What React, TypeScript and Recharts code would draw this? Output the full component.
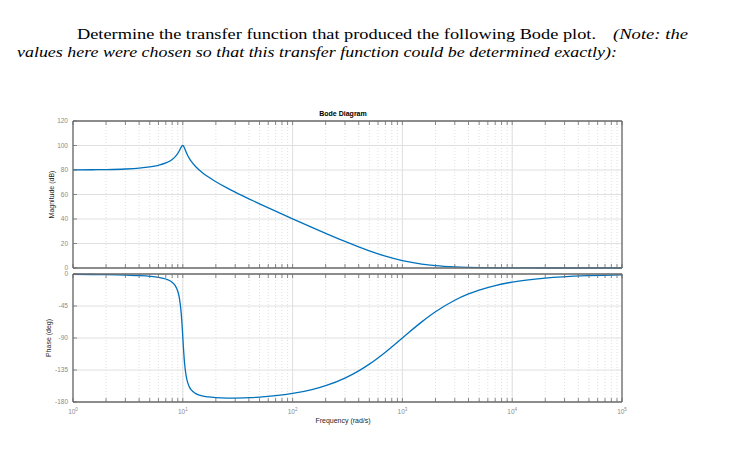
import React from "react";
import { LineChart, Line, XAxis, YAxis, CartesianGrid, ReferenceLine } from "recharts";

// frequencies (rad/s), denser around the resonance at 10
const freqs = [
  1, 1.5, 2, 3, 4, 5, 6, 7, 8, 8.5, 9, 9.3, 9.6, 9.8, 9.9, 10, 10.1, 10.2, 10.4, 10.7,
  11, 11.5, 12, 13, 15, 17, 20, 25, 30, 40, 50, 70, 100, 150, 200, 300, 400, 500, 700,
  1000, 1500, 2000, 3000, 4000, 5000, 7000, 10000, 20000, 50000, 100000,
];
const magnitudeDb = [
  80.09, 80.2, 80.35, 80.81, 81.5, 82.48, 83.84, 85.77, 88.66, 90.75, 93.55, 95.7, 98.13,
  99.52, 99.92, 100, 99.75, 99.2, 97.58, 94.89, 92.5, 89.31, 86.82, 83.07, 78.0, 74.44,
  70.44, 65.59, 61.94, 56.48, 52.4, 46.4, 40.17, 33.19, 28.32, 21.67, 17.21, 13.98, 9.66,
  6.02, 3.2, 1.94, 0.92, 0.53, 0.34, 0.18, 0.09, 0.02, 0, 0,
];
const phaseDeg = [
  -0.46, -0.71, -0.96, -1.54, -2.27, -3.24, -4.67, -7.01, -11.61, -16.06, -24.32, -33.48,
  -49.66, -66.88, -77.5, -88.85, -100.09, -110.43, -126.93, -142.33, -151.09, -159.05,
  -163.37, -167.84, -171.44, -172.91, -173.9, -174.41, -174.41, -173.89, -173.09, -171.15,
  -168.01, -162.56, -157.09, -146.41, -136.26, -126.76, -109.94, -89.94, -67.34, -53.1,
  -36.85, -28.06, -22.61, -16.26, -11.42, -5.72, -2.29, -1.15,
];

const decades = [1, 10, 100, 1000, 10000, 100000];
const decadeExponents = ["0", "1", "2", "3", "4", "5"];
const minorSteps = [2, 3, 4, 5, 6, 7, 8, 9];
const magTicks = [0, 20, 40, 60, 80, 100, 120];
const phaseTicks = [-180, -135, -90, -45, 0];

const xTicks = decades.concat(decades.slice(0, -1).flatMap((d) => minorSteps.map((m) => d * m)));
const rows = freqs.map((w, i) => ({ w, mag: magnitudeDb[i], phase: phaseDeg[i] }));

const W = 733;
const H = 471;
const LEFT = 73;
const RIGHT = 622;
const MAG_TOP = 121;
const MAG_BOTTOM = 268;
const PH_TOP = 274;
const PH_BOTTOM = 402;

const AXIS = "#6b6b6b";
const GRID = "#e0e0e0";
const TICK_TEXT = "#8a8a8a";
const LABEL = "#262626";
const BLUE = "#0072bd";
const SANS = "'Liberation Sans', Arial, sans-serif";
const SERIF = "'Liberation Serif', 'DejaVu Serif', serif";

function BottomTick(props: any) {
  const { x, y, payload, labels } = props;
  const i = decades.indexOf(payload.value);
  return (
    <g>
      <line x1={x} x2={x} y1={y} y2={y - 4} stroke={AXIS} strokeWidth={0.8} />
      {labels && i >= 0 && (
        <text x={x} y={y + 12} textAnchor="middle" fontSize={6.5} fill={TICK_TEXT} fontFamily={SANS}>
          10
          <tspan dy={-3} fontSize={4.5}>
            {decadeExponents[i]}
          </tspan>
        </text>
      )}
    </g>
  );
}

function TopTick(props: any) {
  const { x, y } = props;
  return <line x1={x} x2={x} y1={y} y2={y + 4} stroke={AXIS} strokeWidth={0.8} />;
}

function LeftTick(props: any) {
  const { x, y, payload } = props;
  return (
    <g>
      <line x1={x} x2={x + 4} y1={y} y2={y} stroke={AXIS} strokeWidth={0.8} />
      <text x={x - 5} y={y} dy="0.35em" textAnchor="end" fontSize={6.5} fill={TICK_TEXT} fontFamily={SANS}>
        {payload.value}
      </text>
    </g>
  );
}

function RightTick(props: any) {
  const { x, y } = props;
  return <line x1={x} x2={x - 4} y1={y} y2={y} stroke={AXIS} strokeWidth={0.8} />;
}

function Panel({
  dataKey,
  top,
  bottom,
  yTicks,
  labels,
}: {
  dataKey: string;
  top: number;
  bottom: number;
  yTicks: number[];
  labels: boolean;
}) {
  return (
    <div style={{ position: "absolute", left: 0, top: 0 }}>
      <LineChart
        width={W}
        height={H}
        data={rows}
        margin={{ top, bottom: H - bottom, left: LEFT, right: W - RIGHT }}
      >
        <CartesianGrid vertical horizontal={false} stroke={GRID} strokeDasharray="1 2" />
        <CartesianGrid vertical={false} horizontal stroke={GRID} />
        {decades.map((d) => (
          <ReferenceLine key={d} x={d} stroke={GRID} strokeWidth={1} />
        ))}
        <XAxis
          dataKey="w"
          type="number"
          scale="log"
          domain={[1, 100000]}
          ticks={xTicks}
          interval={0}
          mirror
          tickSize={0}
          tickMargin={0}
          axisLine={{ stroke: AXIS, strokeWidth: 1.3 }}
          tick={<BottomTick labels={labels} />}
        />
        <XAxis
          xAxisId="top"
          dataKey="w"
          type="number"
          scale="log"
          domain={[1, 100000]}
          orientation="top"
          ticks={xTicks}
          interval={0}
          mirror
          tickSize={0}
          tickMargin={0}
          axisLine={{ stroke: AXIS, strokeWidth: 1.3 }}
          tick={<TopTick />}
        />
        <YAxis
          type="number"
          domain={[yTicks[0], yTicks[yTicks.length - 1]]}
          ticks={yTicks}
          interval={0}
          mirror
          tickSize={0}
          tickMargin={0}
          axisLine={{ stroke: AXIS, strokeWidth: 1.3 }}
          tick={<LeftTick />}
        />
        <YAxis
          yAxisId="right"
          orientation="right"
          type="number"
          domain={[yTicks[0], yTicks[yTicks.length - 1]]}
          ticks={yTicks}
          interval={0}
          mirror
          tickSize={0}
          tickMargin={0}
          axisLine={{ stroke: AXIS, strokeWidth: 1.3 }}
          tick={<RightTick />}
        />
        <Line
          dataKey={dataKey}
          type="monotone"
          stroke={BLUE}
          strokeWidth={1.3}
          dot={false}
          isAnimationActive={false}
        />
      </LineChart>
    </div>
  );
}

export default function App() {
  return (
    <div style={{ position: "absolute", left: 0, top: 0, width: W, height: H, background: "#fff" }}>
      <Panel dataKey="mag" top={MAG_TOP} bottom={MAG_BOTTOM} yTicks={magTicks} labels={false} />
      <Panel dataKey="phase" top={PH_TOP} bottom={PH_BOTTOM} yTicks={phaseTicks} labels />
      <svg width={W} height={H} style={{ position: "absolute", left: 0, top: 0, pointerEvents: "none" }}>
        <text x={77} y={39} fontFamily={SERIF} fontSize={15.5} textLength={519} lengthAdjust="spacingAndGlyphs">
          Determine the transfer function that produced the following Bode plot.
        </text>
        <text x={613} y={39} fontFamily={SERIF} fontStyle="italic" fontSize={15.5} textLength={75} lengthAdjust="spacingAndGlyphs">
          (Note: the
        </text>
        <text x={17} y={57} fontFamily={SERIF} fontStyle="italic" fontSize={15.5} textLength={600} lengthAdjust="spacingAndGlyphs">
          values here were chosen so that this transfer function could be determined exactly):
        </text>
        <text x={343} y={116} textAnchor="middle" fontFamily={SANS} fontWeight="bold" fontSize={7} fill="#000">
          Bode Diagram
        </text>
        <text
          transform={`translate(54, ${(MAG_TOP + MAG_BOTTOM) / 2}) rotate(-90)`}
          textAnchor="middle"
          fontFamily={SANS}
          fontSize={7}
          fill={LABEL}
        >
          Magnitude (dB)
        </text>
        <text
          transform={`translate(51, ${(PH_TOP + PH_BOTTOM) / 2}) rotate(-90)`}
          textAnchor="middle"
          fontFamily={SANS}
          fontSize={7}
          fill={LABEL}
        >
          Phase (deg)
        </text>
        <text x={343} y={423} textAnchor="middle" fontFamily={SANS} fontSize={7} fill={LABEL}>
          Frequency (rad/s)
        </text>
      </svg>
    </div>
  );
}
